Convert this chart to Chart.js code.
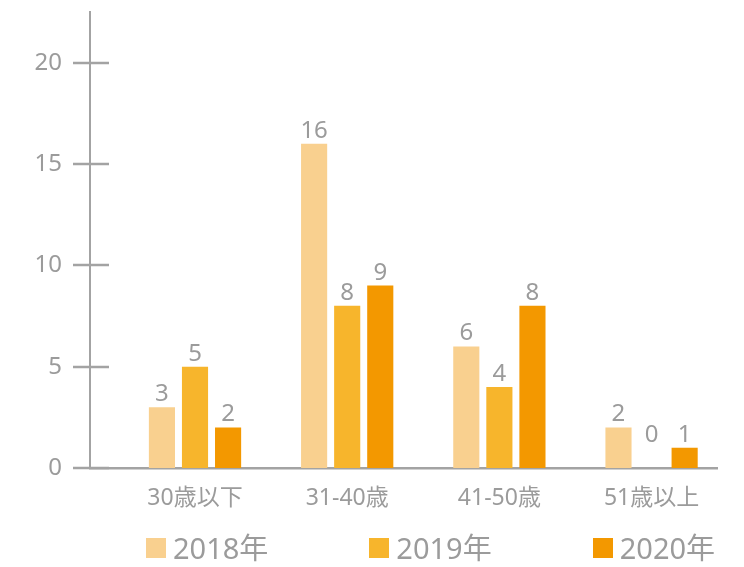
<!DOCTYPE html>
<html lang="ja">
<head>
    <meta charset="UTF-8">
    <title>年齢別人数</title>
    <style>
        body { margin: 0; background: #ffffff; }
        #wrap { position: relative; width: 744px; height: 567px; }
        .legend {
            position: absolute;
            left: 146px;
            top: 528px;
            display: flex;
            gap: 101px;
            font-family: "Noto Sans", "Noto Sans CJK JP", sans-serif;
            font-size: 29px;
            line-height: 40px;
            color: #9b9b9b;
        }
        .legend-item { display: flex; align-items: center; }
        .legend-box { width: 20px; height: 20px; margin-right: 7px; }
    </style>
</head>
<body>
    <div id="wrap">
        <canvas id="ageChart" width="744" height="567"></canvas>
        <div class="legend" id="legend"></div>
    </div>

    <script src="https://cdn.jsdelivr.net/npm/chart.js"></script>
    <script>
        // データ
        const categories = ['30歳以下', '31-40歳', '41-50歳', '51歳以上'];
        const seriesNames = ['2018年', '2019年', '2020年'];
        const values2018 = [3, 16, 6, 2];
        const values2019 = [5, 8, 4, 0];
        const values2020 = [2, 9, 8, 1];
        const yTicks = [0, 5, 10, 15, 20];

        const colors = ['#F9D08F', '#F7B52C', '#F39800'];
        const gray = '#9b9b9b';
        const axisGray = '#a3a3a3';
        const fontFamily = '"Noto Sans", "Noto Sans CJK JP", sans-serif';

        const seriesValues = [values2018, values2019, values2020];

        // 棒の上に数値を表示, 軸の目盛線を交差させる
        const labelPlugin = {
            id: 'barLabels',
            afterDatasetsDraw(chart) {
                const ctx = chart.ctx;
                const yScale = chart.scales.y;
                ctx.save();
                ctx.font = '24px ' + fontFamily;
                ctx.fillStyle = gray;
                ctx.textAlign = 'center';
                ctx.textBaseline = 'alphabetic';
                chart.data.datasets.forEach((ds, di) => {
                    const meta = chart.getDatasetMeta(di);
                    meta.data.forEach((bar, i) => {
                        const top = Math.min(bar.y, yScale.getPixelForValue(1));
                        ctx.fillText(String(ds.data[i].y), bar.x, top - 6);
                    });
                });
                ctx.restore();
            },
            afterDraw(chart) {
                const ctx = chart.ctx;
                const yScale = chart.scales.y;
                const left = chart.chartArea.left;
                ctx.save();
                ctx.strokeStyle = axisGray;
                ctx.lineWidth = 2.5;
                yTicks.forEach(v => {
                    const y = Math.round(yScale.getPixelForValue(v));
                    ctx.beginPath();
                    ctx.moveTo(left - 17, y);
                    ctx.lineTo(left + 19, y);
                    ctx.stroke();
                });
                ctx.restore();
            }
        };

        const ctx = document.getElementById('ageChart').getContext('2d');
        const ageChart = new Chart(ctx, {
            type: 'bar',
            data: {
                datasets: seriesNames.map((name, s) => ({
                    label: name,
                    data: seriesValues[s].map((v, i) => ({ x: i, y: v })),
                    backgroundColor: colors[s],
                    categoryPercentage: 0.652,
                    barPercentage: 0.79
                }))
            },
            options: {
                responsive: false,
                animation: false,
                layout: { padding: { top: 12, right: 27, left: 0, bottom: 53 } },
                scales: {
                    x: {
                        type: 'linear',
                        offset: false,
                        min: -0.69,
                        max: 3.43,
                        grid: { display: false, drawTicks: false },
                        border: { color: axisGray, width: 2.5 },
                        afterBuildTicks(scale) {
                            scale.ticks = categories.map((c, i) => ({ value: i }));
                        },
                        afterFit(scale) {
                            scale.height = 46;
                            scale.paddingLeft = 0;
                            scale.paddingRight = 0;
                        },
                        ticks: {
                            padding: 17,
                            color: gray,
                            font: { family: fontFamily, size: 23 },
                            callback: (v) => categories[v]
                        }
                    },
                    y: {
                        min: 0,
                        max: 22.5,
                        grid: { display: false, drawTicks: false },
                        border: { color: axisGray, width: 2 },
                        afterBuildTicks(scale) {
                            scale.ticks = yTicks.map(v => ({ value: v }));
                        },
                        afterFit(scale) {
                            scale.width = 90;
                            scale.paddingTop = 0;
                            scale.paddingBottom = 0;
                        },
                        ticks: {
                            padding: 28,
                            color: gray,
                            font: { family: fontFamily, size: 24 }
                        }
                    }
                },
                plugins: {
                    tooltip: { enabled: false },
                    legend: { display: false }
                }
            },
            plugins: [labelPlugin]
        });

        // 凡例
        const legendEl = document.getElementById('legend');
        seriesNames.forEach((name, s) => {
            const item = document.createElement('div');
            item.className = 'legend-item';
            const box = document.createElement('span');
            box.className = 'legend-box';
            box.style.background = colors[s];
            item.appendChild(box);
            item.appendChild(document.createTextNode(name));
            legendEl.appendChild(item);
        });
    </script>
</body>
</html>
